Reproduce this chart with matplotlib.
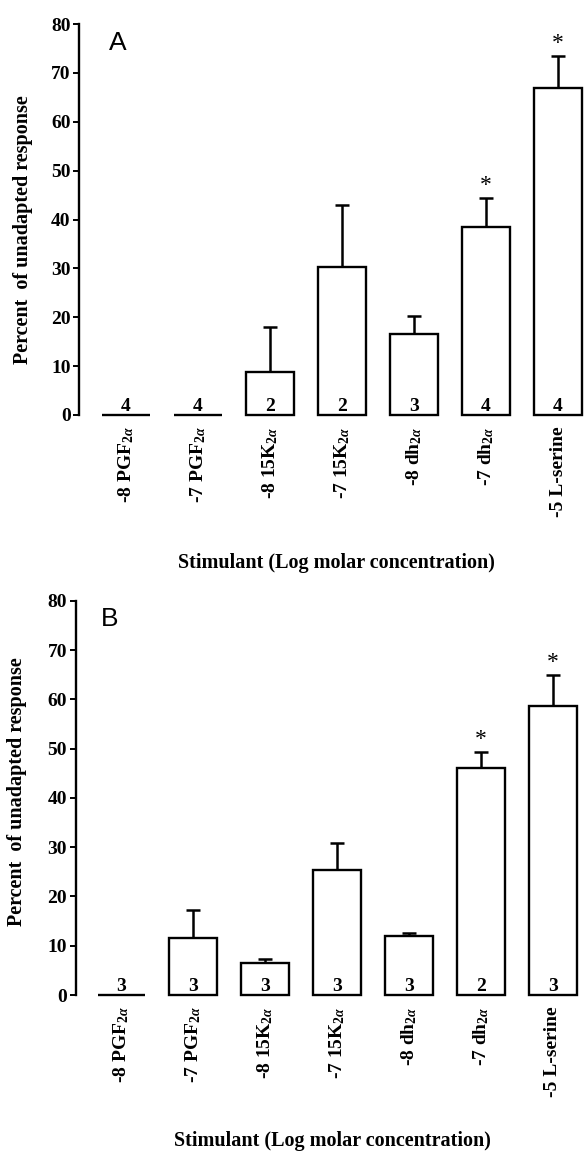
import matplotlib
matplotlib.use('Agg')
from matplotlib import pyplot as plt

plt.rcParams['font.family'] = ['Liberation Serif', 'DejaVu Serif']
plt.rcParams['font.weight'] = 'bold'
plt.rcParams['axes.labelweight'] = 'bold'
plt.rcParams['mathtext.fontset'] = 'custom'
plt.rcParams['mathtext.rm'] = 'Liberation Serif:bold'
plt.rcParams['mathtext.bf'] = 'Liberation Serif:bold'
plt.rcParams['mathtext.it'] = 'Liberation Serif:italic'

stimulants = ['-8 PGF$_{2\\alpha}$', '-7 PGF$_{2\\alpha}$', '-8 15K$_{2\\alpha}$',
              '-7 15K$_{2\\alpha}$', '-8 dh$_{2\\alpha}$', '-7 dh$_{2\\alpha}$',
              '-5 L-serine']

# panel A
resp_a = [0, 0, 8.7, 30.3, 16.6, 38.5, 67.0]
sem_a = [0, 0, 9.4, 12.6, 3.6, 5.9, 6.5]
n_a = [4, 4, 2, 2, 3, 4, 4]
sig_a = [False, False, False, False, False, True, True]

# panel B
resp_b = [0, 11.6, 6.6, 25.4, 11.9, 46.1, 58.7]
sem_b = [0, 5.7, 0.8, 5.4, 0.7, 3.2, 6.2]
n_b = [3, 3, 3, 3, 3, 2, 3]
sig_b = [False, False, False, False, False, True, True]

yticks = [0, 10, 20, 30, 40, 50, 60, 70, 80]


def draw_panel(ax, resp, sem, n, sig, letter, xlim, letter_pos, ylab_pos, xlab_pos):
    x = list(range(len(resp)))
    ax.bar(x, resp, width=0.667, color='white', edgecolor='black',
           linewidth=1.7, clip_on=False, zorder=3)
    for xi, r, s in zip(x, resp, sem):
        if s > 0:
            ax.errorbar(xi, r, yerr=[[0], [s]], fmt='none', ecolor='black',
                        elinewidth=1.8, capsize=5, capthick=1.8, zorder=2)
    for xi, k in zip(x, n):
        ax.annotate(str(k), (xi, 0), xytext=(0, 3), textcoords='offset points',
                    ha='center', va='baseline', fontsize=14, zorder=4)
    for xi, r, s, star in zip(x, resp, sem, sig):
        if star:
            ax.annotate('*', (xi, r + s), xytext=(0, 9), textcoords='offset points',
                        ha='center', va='center', fontsize=17, fontweight='normal')
    ax.set_xlim(*xlim)
    ax.set_ylim(0, 80)
    ax.set_yticks(yticks)
    ax.set_yticklabels([str(t) for t in yticks], fontsize=14)
    ax.set_xticks(x)
    ax.set_xticklabels(stimulants, rotation=90, fontsize=14, va='top', ha='center')
    ax.tick_params(axis='x', length=0, pad=8)
    ax.tick_params(axis='y', length=4, width=1.4, pad=2)
    for side in ['top', 'right', 'bottom']:
        ax.spines[side].set_visible(False)
    ax.spines['left'].set_linewidth(1.7)
    ax.set_ylabel('Percent  of unadapted response', fontsize=14.5)
    ax.yaxis.set_label_coords(*ylab_pos)
    ax.set_xlabel('Stimulant (Log molar concentration)', fontsize=14.5)
    ax.xaxis.set_label_coords(*xlab_pos)
    ax.text(letter_pos[0], letter_pos[1], letter, transform=ax.transAxes, fontsize=19,
            fontweight='normal', family='Liberation Sans', ha='center', va='center')


fig = plt.figure(figsize=(5.84, 11.55), dpi=100)
ax_a = fig.add_axes([0.1353, 0.6407, 0.8647, 0.3385])
ax_b = fig.add_axes([0.1293, 0.1385, 0.8707, 0.3414])

draw_panel(ax_a, resp_a, sem_a, n_a, sig_a, 'A', (-0.653, 6.361),
           (0.076, 0.951), (-0.091, 0.473), (0.509, -0.353))
draw_panel(ax_b, resp_b, sem_b, n_b, sig_b, 'B', (-0.64, 6.433),
           (0.068, 0.954), (-0.095, 0.515), (0.506, -0.345))

fig.savefig('out.png', dpi=100)
